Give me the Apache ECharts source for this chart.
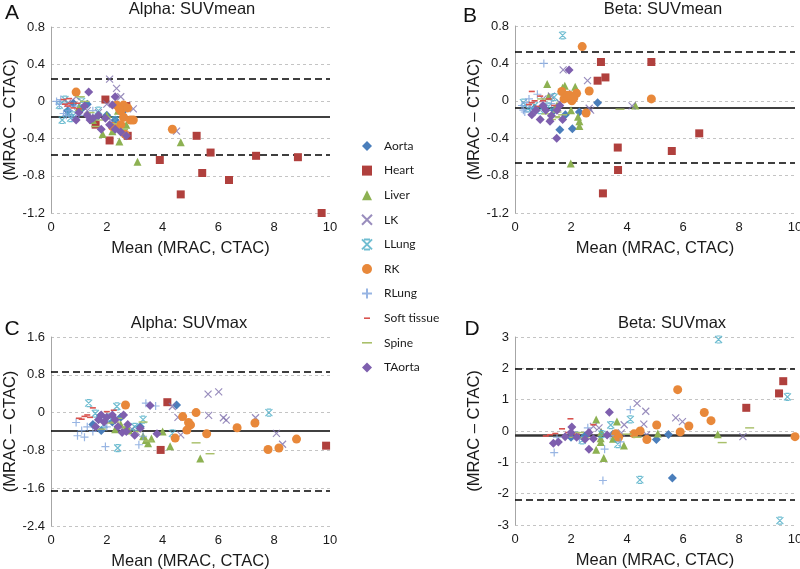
<!DOCTYPE html>
<html><head><meta charset="utf-8">
<script src="https://cdn.jsdelivr.net/npm/echarts/dist/echarts.min.js"></script>
<style>html,body{margin:0;padding:0;background:#fff}#c{width:800px;height:569px}</style>
</head><body><div id="c"></div>
<script>
// ---------- categories ----------
const organs = ['Aorta','Heart','Liver','LK','LLung','RK','RLung','Soft tissue','Spine','TAorta'];
const panelTitles = ['Alpha: SUVmean','Beta: SUVmean','Alpha: SUVmax','Beta: SUVmax'];
const panelLetters = ['A','B','C','D'];
const xAxisName = 'Mean (MRAC, CTAC)';
const yAxisName = '(MRAC \u2013 CTAC)';

// ---------- limits of agreement: [upper, mean, lower] ----------
const aMeanLimits = [0.24, -0.17, -0.57];
const bMeanLimits = [0.52, -0.07, -0.66];
const cMaxLimits  = [0.86, -0.39, -1.65];
const dMaxLimits  = [1.98, -0.13, -2.2];

// ---------- axis ranges [min, max, interval] ----------
const aYRange = [-1.2, 0.8, 0.4];
const bYRange = [-1.2, 0.8, 0.4];
const cYRange = [-2.4, 1.6, 0.8];
const dYRange = [-3, 3, 1];
const xRange = [0, 10, 2];

// ---------- Panel A: Alpha SUVmean  ([mean, difference]) ----------
const aMeanAorta = [[0.8,-0.02],[1.1,-0.08],[1.3,-0.03],[2.0,-0.15],[2.3,-0.2],[0.6,-0.1],[1.6,-0.18],[2.6,-0.1]];
const aMeanHeart = [[1.95,0.02],[1.6,-0.25],[2.1,-0.42],[2.75,-0.37],[2.7,-0.05],[3.9,-0.63],[4.65,-1.0],[5.22,-0.37],[5.42,-0.77],[5.72,-0.55],[6.38,-0.845],[7.35,-0.585],[8.85,-0.6],[9.7,-1.2]];
const aMeanLiver = [[3.1,-0.65],[4.65,-0.44],[2.45,-0.43],[1.85,-0.35],[2.2,-0.32],[1.0,-0.06],[2.0,-0.15],[2.7,-0.25],[1.5,-0.2],[2.4,-0.1]];
const aMeanLK = [[2.1,0.24],[2.35,0.14],[2.5,0.05],[2.95,-0.08],[4.5,-0.32],[1.3,-0.1],[0.9,0.05],[2.0,-0.03],[0.6,-0.02],[2.2,-0.22],[1.7,-0.12]];
const aMeanLLung = [[0.4,-0.2],[0.5,0.02],[0.3,-0.04],[0.6,-0.12],[0.8,-0.15],[1.1,0.0],[1.7,-0.1],[2.3,-0.2],[0.7,-0.18]];
const aMeanRK = [[0.9,0.1],[2.35,-0.04],[2.5,-0.1],[2.6,-0.04],[2.75,-0.07],[2.6,-0.17],[2.5,-0.25],[2.85,-0.2],[2.95,-0.2],[2.35,-0.28],[2.2,-0.27],[4.35,-0.3],[2.65,-0.35],[2.45,-0.08]];
const aMeanRLung = [[0.2,0.0],[0.3,-0.03],[0.45,-0.13],[0.55,-0.15],[0.65,-0.1],[0.75,-0.17],[0.85,-0.05],[0.35,0.02],[1.5,-0.1],[1.0,-0.15]];
const aMeanSoft = [[0.5,-0.03],[0.6,-0.05],[0.7,-0.02],[0.8,-0.07],[0.95,-0.02],[0.45,0.02],[1.0,-0.08],[0.65,0.03],[1.2,-0.05]];
const aMeanSpine = [[1.6,-0.27],[1.75,-0.2],[1.2,0.0],[2.0,-0.17],[2.2,-0.24],[2.6,-0.3],[1.05,0.05],[1.4,-0.12]];
const aMeanTAorta = [[1.35,0.1],[1.2,-0.05],[1.4,-0.2],[1.0,-0.12],[1.8,-0.3],[1.5,-0.18],[2.3,0.05],[2.2,-0.04],[2.5,-0.33],[2.7,-0.37],[1.7,-0.15],[2.1,-0.25],[0.9,-0.2],[2.3,-0.3],[1.3,-0.15],[1.95,-0.18]];

// ---------- Panel B: Beta SUVmean ----------
const bMeanAorta = [[1.6,-0.31],[2.05,-0.3],[2.95,-0.02],[1.0,-0.06],[1.4,-0.1],[0.7,-0.08],[1.8,-0.15],[2.3,-0.12]];
const bMeanHeart = [[3.07,0.415],[2.95,0.215],[3.23,0.25],[4.87,0.415],[3.67,-0.5],[3.68,-0.74],[3.14,-0.99],[5.6,-0.537],[6.58,-0.348]];
const bMeanLiver = [[1.15,0.18],[1.7,0.14],[1.78,0.16],[2.15,0.15],[1.99,-0.67],[2.25,-0.17],[2.3,-0.22],[2.3,-0.27],[2.0,-0.1],[4.3,-0.05],[1.5,-0.05],[1.2,0.05]];
const bMeanLK = [[1.72,0.33],[2.59,0.215],[2.65,-0.08],[4.18,-0.055],[1.85,0.08],[1.3,0.05],[1.0,0.02],[2.7,-0.1],[1.6,-0.02]];
const bMeanLLung = [[1.7,0.7],[0.3,-0.02],[0.45,-0.08],[0.6,-0.12],[1.4,0.04],[0.9,-0.1],[0.7,-0.05],[1.2,-0.06]];
const bMeanRK = [[2.4,0.58],[4.87,0.02],[2.65,0.105],[1.67,0.1],[1.75,0.02],[1.93,0.03],[2.03,0.0],[1.87,0.06],[2.54,-0.13],[2.2,0.08],[1.95,0.06],[2.1,0.03]];
const bMeanRLung = [[1.03,0.4],[0.25,-0.05],[0.3,-0.1],[0.4,-0.02],[0.5,0.02],[0.35,-0.12],[0.8,0.07],[1.3,-0.03],[0.55,-0.07]];
const bMeanSoft = [[0.6,0.1],[0.6,-0.02],[1.0,0.0],[0.8,-0.06],[0.5,-0.04],[1.2,0.02],[0.9,0.05],[0.7,0.0],[1.4,-0.05]];
const bMeanSpine = [[3.75,-0.09],[1.45,-0.17],[1.1,-0.14],[1.5,-0.12],[1.3,-0.2],[1.7,-0.15],[0.95,0.02],[1.6,-0.18]];
const bMeanTAorta = [[1.93,0.33],[1.49,-0.4],[0.6,-0.15],[0.9,-0.2],[1.1,-0.1],[1.3,-0.16],[1.5,-0.1],[1.7,-0.2],[1.0,-0.05],[1.25,-0.22],[0.75,-0.1],[1.6,-0.05]];

// ---------- Panel C: Alpha SUVmax ----------
const cMaxAorta = [[4.5,0.16],[1.77,-0.07],[1.8,-0.38],[2.2,-0.2],[3.2,-0.3],[2.5,-0.1],[1.5,-0.25]];
const cMaxHeart = [[4.17,0.22],[3.93,-0.79],[9.86,-0.7]];
const cMaxLiver = [[3.48,-0.65],[4.0,-0.4],[4.27,-0.71],[5.35,-0.97],[2.7,-0.3],[3.3,-0.5],[2.5,-0.25],[2.3,-0.35],[3.6,-0.55],[2.8,-0.38],[3.4,-0.58]];
const cMaxLK = [[5.63,0.39],[6.01,0.44],[5.65,-0.06],[6.18,-0.11],[6.28,-0.16],[7.33,-0.11],[8.3,-0.67],[8.08,-0.44],[4.35,0.13],[4.65,-0.47],[3.05,-0.4],[4.55,-0.1],[2.9,-0.35]];
const cMaxLLung = [[1.35,0.2],[2.36,0.13],[7.81,0.0],[2.39,-0.75],[4.35,-0.44],[1.59,-0.02],[1.9,-0.25],[3.3,-0.15],[2.1,-0.1],[3.0,-0.3]];
const cMaxRK = [[2.67,0.16],[5.2,0.0],[4.72,-0.085],[4.93,-0.21],[5.0,-0.26],[4.87,-0.37],[4.45,-0.54],[5.58,-0.45],[6.67,-0.32],[7.31,-0.22],[8.8,-0.56],[7.78,-0.78],[8.17,-0.75]];
const cMaxRLung = [[3.75,0.14],[0.9,-0.21],[0.95,-0.49],[1.2,-0.52],[1.95,-0.72],[3.15,-0.68],[3.4,0.2],[1.3,-0.3],[1.5,-0.4],[1.1,-0.38],[3.3,-0.5],[2.0,-0.3]];
const cMaxSoft = [[1.0,-0.12],[1.2,-0.08],[1.3,-0.05],[1.5,0.1],[2.0,0.02],[1.1,-0.14],[2.25,0.05],[1.4,-0.1]];
const cMaxSpine = [[5.2,-0.64],[5.7,-0.87],[2.4,-0.12],[2.3,-0.2],[3.1,-0.4],[3.3,-0.2],[3.5,-0.6],[2.5,-0.3],[1.8,-0.35],[2.1,-0.22]];
const cMaxTAorta = [[1.6,-0.3],[1.8,-0.05],[2.0,-0.1],[2.2,-0.05],[2.3,-0.15],[2.6,-0.05],[2.55,-0.42],[2.75,-0.25],[3.0,-0.48],[3.2,-0.33],[3.55,0.15],[3.8,-0.45],[2.4,-0.3],[1.9,-0.2],[1.7,-0.15],[2.7,-0.4]];

// ---------- Panel D: Beta SUVmax ----------
const dMaxAorta = [[5.62,-1.5],[5.05,-0.27],[5.48,-0.11],[2.5,-0.15],[3.5,-0.1],[2.0,-0.2]];
const dMaxHeart = [[9.58,1.59],[9.43,1.2],[8.26,0.74]];
const dMaxLiver = [[2.9,0.37],[3.64,0.3],[3.89,-0.46],[2.9,-0.6],[3.06,-0.23],[3.06,-0.35],[3.17,-0.86],[5.1,-0.08],[7.24,-0.1],[3.08,-0.03],[3.5,-0.25]];
const dMaxLK = [[4.36,0.88],[4.67,0.63],[4.6,0.22],[5.74,0.42],[5.98,0.3],[8.14,-0.18],[3.0,0.1],[3.8,-0.06],[3.9,0.2],[2.8,0.15],[4.7,-0.12]];
const dMaxLLung = [[7.27,2.92],[9.46,-2.86],[9.73,1.09],[4.46,-1.56],[4.12,0.37],[3.42,0.19],[3.67,-0.42],[2.4,-0.3],[3.1,-0.1],[2.2,-0.15]];
const dMaxRK = [[5.81,1.32],[6.76,0.59],[7.0,0.33],[6.21,0.16],[5.9,-0.03],[5.06,0.19],[4.47,0.0],[4.71,-0.27],[4.25,-0.09],[10.0,-0.18],[3.6,-0.09],[3.7,-0.2]];
const dMaxRLung = [[1.4,-0.69],[3.14,-1.58],[3.2,-0.58],[4.12,0.68],[3.76,-0.35],[2.6,0.1],[1.5,-0.2],[2.3,-0.25],[3.4,-0.15]];
const dMaxSoft = [[1.98,0.39],[1.68,0.07],[1.1,-0.16],[1.44,-0.08],[2.8,0.2],[1.25,-0.12],[1.9,-0.05],[2.2,-0.1]];
const dMaxSpine = [[8.38,0.1],[7.4,-0.37],[4.36,-0.2],[2.3,-0.05],[2.5,-0.22],[3.3,-0.12],[2.1,-0.2],[4.0,-0.1]];
const dMaxTAorta = [[3.37,0.6],[2.03,0.13],[1.79,-0.18],[1.37,-0.39],[1.55,-0.35],[2.64,-0.58],[2.64,-0.05],[2.5,-0.26],[3.29,-0.13],[2.0,-0.05],[2.8,-0.25],[2.2,-0.2]];

// ---------- assemble ----------
const panelData = [
  [aMeanAorta,aMeanHeart,aMeanLiver,aMeanLK,aMeanLLung,aMeanRK,aMeanRLung,aMeanSoft,aMeanSpine,aMeanTAorta],
  [bMeanAorta,bMeanHeart,bMeanLiver,bMeanLK,bMeanLLung,bMeanRK,bMeanRLung,bMeanSoft,bMeanSpine,bMeanTAorta],
  [cMaxAorta,cMaxHeart,cMaxLiver,cMaxLK,cMaxLLung,cMaxRK,cMaxRLung,cMaxSoft,cMaxSpine,cMaxTAorta],
  [dMaxAorta,dMaxHeart,dMaxLiver,dMaxLK,dMaxLLung,dMaxRK,dMaxRLung,dMaxSoft,dMaxSpine,dMaxTAorta]
];
const panelLimits = [aMeanLimits,bMeanLimits,cMaxLimits,dMaxLimits];
const panelY = [aYRange,bYRange,cYRange,dYRange];

const styles = {
  'Aorta':      {symbol:'diamond', size:9, color:'#4a7ebb', stroke:false},
  'Heart':      {symbol:'rect', size:8, color:'#b0403d', stroke:false},
  'Liver':      {symbol:'triangle', size:8, color:'#8db152', stroke:false},
  'LK':         {symbol:'path://M0,0L10,10M10,0L0,10', size:7, color:'#7f70ad', stroke:true},
  'LLung':      {symbol:'path://M0,0L10,10M10,0L0,10M2,0L8,0M2,10L8,10', size:7, color:'#4bacc6', stroke:true},
  'RK':         {symbol:'circle', size:9, color:'#e8883a', stroke:false},
  'RLung':      {symbol:'path://M5,0L5,10M0,5L10,5', size:8, color:'#7ea3dc', stroke:true},
  'Soft tissue':{symbol:'path://M0,0M2,4.2L8,4.2L8,5.8L2,5.8ZM10,10', size:10, color:'#d9534f', stroke:false},
  'Spine':      {symbol:'path://M0,0M0,4.2L10,4.2L10,5.8L0,5.8ZM10,10', size:9, color:'#a9c06a', stroke:false},
  'TAorta':     {symbol:'diamond', size:9, color:'#7e5fae', stroke:false}
};

const gridPos = [
  {left:51, top:27, width:279, height:186},
  {left:515, top:26, width:280, height:187},
  {left:51, top:337, width:279, height:189},
  {left:515, top:337, width:280, height:188}
];
const meanLineWidth = [1.6, 1.6, 1.6, 2.6];
const meanLineColor = ['#000', '#000', '#000', '#333'];
const FONT = 'Liberation Sans, Arial, sans-serif';

const grids = [], xAxes = [], yAxes = [], series = [];
gridPos.forEach((g, i) => {
  grids.push(Object.assign({containLabel:false, outerBoundsMode:'none'}, g));
  xAxes.push({
    type:'value', gridIndex:i, min:xRange[0], max:xRange[1], interval:xRange[2],
    name:xAxisName, nameLocation:'middle', nameGap:27,
    nameTextStyle:{fontFamily:FONT, fontSize:16.5, color:'#1a1a1a'},
    axisLine:{show:false}, axisTick:{show:false}, splitLine:{show:false},
    axisLabel:{fontFamily:FONT, fontSize:13, color:'#1a1a1a', margin:8}
  });
  const yr = panelY[i];
  yAxes.push({
    type:'value', gridIndex:i, min:yr[0], max:yr[1], interval:yr[2],
    name:yAxisName, nameLocation:'middle', nameGap:32,
    nameTextStyle:{fontFamily:FONT, fontSize:16.5, color:'#1a1a1a'},
    axisLine:{show:true, onZero:false, lineStyle:{color:'#a6a6a6', width:1}},
    axisTick:{show:false},
    splitLine:{show:true, lineStyle:{color:'#c4c4c4', type:[3,3], width:1}},
    axisLabel:{fontFamily:FONT, fontSize:13, color:'#1a1a1a', margin:6}
  });
  const lim = panelLimits[i];
  organs.forEach((o, k) => {
    const s = styles[o];
    const ser = {
      type:'scatter', name:o, xAxisIndex:i, yAxisIndex:i,
      data: panelData[i][k],
      symbol:s.symbol, symbolSize:s.size, symbolKeepAspect:true,
      itemStyle: s.stroke ? {color:'rgba(0,0,0,0)', borderColor:s.color, borderWidth:1.2}
                          : {color:s.color, opacity:1},
      emphasis:{disabled:true}, z:3
    };
    if (k === 0) {
      ser.markLine = {
        silent:true, symbol:'none', label:{show:false}, z:2,
        data:[
          {yAxis:lim[0], lineStyle:{color:'#000', type:[7,4], width:1.6}},
          {yAxis:lim[1], lineStyle:{color:meanLineColor[i], type:'solid', width:meanLineWidth[i]}},
          {yAxis:lim[2], lineStyle:{color:'#000', type:[7,4], width:1.6}}
        ]
      };
    }
    series.push(ser);
  });
});

const titlePos = [[192,9],[663,9],[189,323],[672,323]];
const letterPos = [[12,13],[470,16],[12,329],[472,329]];
const graphics = [];
panelTitles.forEach((t, i) => {
  graphics.push({type:'text', x:titlePos[i][0], y:titlePos[i][1],
    style:{text:t, fontFamily:FONT, fontSize:16.5, fill:'#1a1a1a', textAlign:'center', textVerticalAlign:'middle'}});
  graphics.push({type:'text', x:letterPos[i][0], y:letterPos[i][1],
    style:{text:panelLetters[i], fontFamily:FONT, fontSize:21, fill:'#111', textAlign:'center', textVerticalAlign:'middle'}});
});

const chart = echarts.init(document.getElementById('c'), null, {renderer:'canvas'});
chart.setOption({
  animation:false,
  backgroundColor:'#fff',
  grid:grids, xAxis:xAxes, yAxis:yAxes, series:series,
  graphic:graphics,
  legend:{
    data:organs, orient:'vertical', left:356, top:134,
    itemWidth:10, itemHeight:10, itemGap:10.6, selectedMode:false,
    textStyle:{fontFamily:'Lato, Carlito, sans-serif', fontSize:12, color:'#1a1a1a', lineHeight:14, padding:[0,0,0,7]}
  }
});
</script>
</body></html>
